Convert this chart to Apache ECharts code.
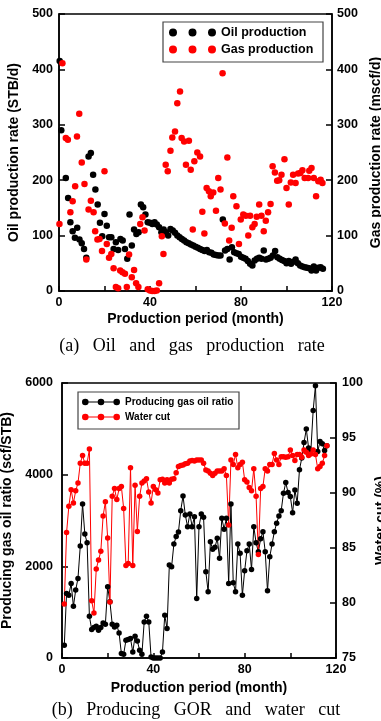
<!DOCTYPE html>
<html>
<head>
<meta charset="utf-8">
<script src="https://cdn.jsdelivr.net/npm/echarts@6/dist/echarts.min.js"></script>
<style>
html, body { margin: 0; padding: 0; background: #fff; }
#main { width: 381px; height: 721px; }
</style>
</head>
<body>
<div id="main"></div>
<script>
// (a) oil and gas production rate, [month, rate]
var oilProduction = [[0.3,415],[1,290],[3,204],[4,168],[5,124],[6,108],[7,96],[8,114],[9,93],[10,86],[11,76],[12,60],
	[13,243],[14,249],[15,210],[16,183],[17,156],[18,123],[19,99],[20,139],[21,118],[22,97],[23,97],[24,76],[25,88],
	[26,74],[27,94],[28,91],[29,76],[30,58],[31,138],[32,82],[33,111],[34,103],[35,106],[36,156],[37,151],[38,138],
	[39,124],[40,123],[41,121],[42,124],[43,120],[44,115],[45,106],[46,111],[47,106],[48,100],[49,112],[50,109],
	[51,105],[52,100],[53,97],[54,94],[55,91],[56,88],[57,86],[58,84],[59,82],[60,80],[61,78],[62,76],[63,74],
	[64,72],[65,74],[66,70],[67,69],[68,66],[69,65],[70,64],[71,64],[72,129],[73,73],[74,76],[75,57],[76,79],
	[77,70],[78,68],[79,67],[80,62],[81,60],[82,58],[83,54],[84,49],[85,46],[86,55],[87,58],[88,60],[89,58],
	[90,73],[91,57],[92,58],[93,60],[94,64],[95,72],[96,61],[97,58],[98,56],[99,54],[100,50],[101,54],[102,49],
	[103,53],[104,57],[105,50],[106,46],[107,44],[108,43],[109,42],[110,41],[111,37],[112,44],[113,37],[114,42],
	[115,43],[116,40]];

var gasProduction = [[0.2,121],[1.5,411],[3,276],[3.9,273],[5,142],[6,162],[7.1,189],[7.9,279],[8.9,320],[10,232],
	[11.2,193],[12,57],[13,147],[14,163],[15.2,142],[15.9,108],[16.9,93],[17.8,94],[18.9,72],[20,216],[21,85],
	[22,60],[23,67],[24,41],[25,7],[26,5],[26.9,37],[27.9,34],[29,31],[29.8,7],[30.8,66],[32,25],[33,38],
	[33.9,14],[34.9,7],[35.7,121],[36.7,133],[37.6,109],[39,3],[40,1],[41,0],[42,0],[43,1],[44,14],[45.2,99],
	[45.9,67],[46.9,228],[47.8,216],[49,253],[49.8,277],[51,288],[52,339],[53.2,360],[53.9,276],[55,270],
	[55.8,228],[57.1,271],[57.9,219],[58.8,111],[59.5,234],[60.8,250],[62,243],[63,143],[63.9,104],[64.9,186],
	[65.9,180],[66.7,171],[67.8,178],[69,145],[70,204],[71,183],[71.9,393],[72.9,122],[74,241],[74.8,91],
	[75.9,114],[76.6,171],[78,153],[79.1,85],[79.9,129],[81,138],[82.1,136],[83.2,100],[84,136],[85,115],
	[86,121],[86.9,134],[88,156],[89,136],[90,108],[90.9,127],[91.9,142],[93,157],[93.9,225],[94.9,214],
	[95.9,199],[96.8,200],[97.8,210],[99.1,238],[100,186],[101,156],[101.9,196],[102.9,210],[104,195],
	[105.1,212],[106.1,213],[107,218],[108,204],[109.5,204],[110,217],[111,222],[112,204],[113,171],[114,198],
	[115,201],[115.8,195]];

// (b) producing GOR (scf/STB) and water cut (%), one value per month from month 1
var gorValues = [278,1408,1371,1627,1131,1481,1737,2443,3361,2705,
	2515,912,621,665,693,606,665,766,737,1553,
	1225,737,678,715,547,96,81,387,402,424,
	131,475,372,168,81,787,912,787,22,0,
	0,0,0,131,934,643,2027,1990,2487,2650,
	2750,3215,3536,3121,2865,3143,2865,3084,1299,2865,
	3143,3070,1881,1443,2537,2371,2414,2611,2174,3049,
	2808,3049,1627,3361,1640,1443,2487,2283,1371,1903,
	2340,2487,1933,2865,2515,2318,2600,2756,2318,1465,
	2209,2487,2756,2939,3099,3215,3595,3828,3609,3521,
	3171,3668,3377,4105,4361,4702,4995,4580,4527,5402,
	5942,4505,4724,4674,4527,4630];

var waterCutValues = [79.9,86.4,88.8,90.3,89.1,90.2,90.9,92.7,93.4,92.7,
	92.7,94.0,80.2,79.1,83.1,83.9,84.7,87.9,89.2,85.9,
	80.1,89.7,90.4,89.4,90.4,90.6,88.6,83.4,83.6,92.3,
	83.4,90.7,86.5,89.7,90.9,91.1,91.3,90.1,89.1,90.6,
	90.3,90.0,91.2,91.25,90.9,91.2,90.9,91.25,91.3,91.85,
	92.4,92.5,92.55,92.65,92.7,92.9,92.95,92.9,93.0,93.0,
	93.0,92.7,92.1,92.0,91.8,91.6,91.8,92.0,92.0,92.0,
	92.2,91.6,87.1,93.0,92.6,93.5,92.3,92.6,92.8,91.2,
	91.0,90.5,90.2,92.2,89.7,84.4,90.4,90.6,92.2,92.0,
	92.6,92.6,93.6,93.0,92.6,93.3,93.3,93.25,93.3,93.9,
	93.4,92.95,93.5,93.5,93.25,93.9,93.7,93.4,93.55,93.9,
	93.5,92.2,92.4,92.7,93.4,94.3];

var captionA = '(a)   Oil   and   gas   production   rate';
var captionB = '(b)   Producing   GOR   and   water   cut';

function toPairs(values) {
	var out = [];
	for (var i = 0; i < values.length; i++) {
		out.push([i + 1, values[i]]);
	}
	return out;
}

var FONT = 'Liberation Sans';
var axisNameStyle = { color : '#000', fontFamily : FONT, fontWeight : 'bold', fontSize : 14 };

// three-dot legend icons
var dotsIcon = 'path://M0,4A4,4 0 1,1 8,4A4,4 0 1,1 0,4Z M19.5,4A4,4 0 1,1 27.5,4A4,4 0 1,1 19.5,4Z M39,4A4,4 0 1,1 47,4A4,4 0 1,1 39,4Z';
var dotsLineIcon = 'path://M0,3.3A3.3,3.3 0 1,1 6.6,3.3A3.3,3.3 0 1,1 0,3.3Z M15.7,3.3A3.3,3.3 0 1,1 22.3,3.3A3.3,3.3 0 1,1 15.7,3.3Z M31.4,3.3A3.3,3.3 0 1,1 38,3.3A3.3,3.3 0 1,1 31.4,3.3Z M3,2.8L35,2.8L35,3.8L3,3.8Z';

function xAxisOf(gridIndex, nameGap) {
	return {
		gridIndex : gridIndex,
		type : 'value',
		min : 0,
		max : 120,
		interval : 20,
		name : 'Production period (month)',
		nameLocation : 'middle',
		nameGap : nameGap,
		nameTextStyle : axisNameStyle,
		axisLine : { lineStyle : { color : '#000', width : 1.5 } },
		axisTick : { inside : true, length : 5, lineStyle : { color : '#000', width : 1.5 } },
		axisLabel : {
			margin : 5,
			formatter : function(v) { return v % 40 === 0 ? String(v) : ''; },
			color : '#000', fontFamily : FONT, fontWeight : 'bold', fontSize : 12.5
		},
		splitLine : { show : false }
	};
}

function yAxisOf(gridIndex, pos, min, max, interval, name, nameGap, margin) {
	return {
		gridIndex : gridIndex,
		type : 'value',
		position : pos,
		min : min,
		max : max,
		interval : interval,
		name : name,
		nameLocation : 'middle',
		nameRotate : 90,
		nameGap : nameGap,
		nameTextStyle : axisNameStyle,
		axisLine : { show : true, lineStyle : { color : '#000', width : 1.5 } },
		axisTick : { show : true, inside : true, length : 6, lineStyle : { color : '#000', width : 1.5 } },
		axisLabel : {
			margin : margin,
			formatter : function(v) { return String(v); },
			color : '#000', fontFamily : FONT, fontWeight : 'bold', fontSize : 12.5
		},
		splitLine : { show : false }
	};
}

var myChart = echarts.init(document.getElementById('main'), null, { renderer : 'canvas' });
var option = {
	backgroundColor : '#fff',
	animation : false,
	grid : [
		{ left : 59, top : 14, width : 273, height : 277, show : true, borderColor : '#000', borderWidth : 1.5,
			containLabel : false, outerBoundsMode : 'none' },
		{ left : 62, top : 383, width : 274, height : 275, show : true, borderColor : '#000', borderWidth : 1.5,
			containLabel : false, outerBoundsMode : 'none' }
	],
	xAxis : [ xAxisOf(0, 21), xAxisOf(1, 23) ],
	yAxis : [
		yAxisOf(0, 'left', 0, 500, 100, 'Oil production rate (STB/d)', 33, 6),
		yAxisOf(0, 'right', 0, 500, 100, 'Gas production rate (mscf/d)', 35, 5),
		yAxisOf(1, 'left', 0, 6000, 2000, 'Producing gas oil ratio (scf/STB)', 40, 9),
		yAxisOf(1, 'right', 75, 100, 5, 'Water cut (%)', 32, 6)
	],
	legend : [
		{
			left : 169, top : 26, padding : 0, itemWidth : 47, itemHeight : 8,
			data : [ { name : 'Oil production', icon : dotsIcon } ],
			textStyle : { color : '#000', fontFamily : FONT, fontWeight : 'bold', fontSize : 12.5 }
		},
		{
			left : 169, top : 43, padding : 0, itemWidth : 47, itemHeight : 8,
			data : [ { name : 'Gas production', icon : dotsIcon } ],
			textStyle : { color : '#000', fontFamily : FONT, fontWeight : 'bold', fontSize : 12.5 }
		},
		{
			left : 82, top : 397, padding : 0, itemWidth : 38, itemHeight : 6.6,
			data : [ { name : 'Producing gas oil ratio', icon : dotsLineIcon } ],
			textStyle : { color : '#000', fontFamily : FONT, fontWeight : 'bold', fontSize : 10 }
		},
		{
			left : 82, top : 412, padding : 0, itemWidth : 38, itemHeight : 6.6,
			data : [ { name : 'Water cut', icon : dotsLineIcon } ],
			textStyle : { color : '#000', fontFamily : FONT, fontWeight : 'bold', fontSize : 10 }
		}
	],
	graphic : [
		{ type : 'rect', shape : { x : 163, y : 22, width : 160, height : 40 },
			style : { fill : 'none', stroke : '#444', lineWidth : 1.2 }, z : 1 },
		{ type : 'rect', shape : { x : 78, y : 392, width : 161, height : 37 },
			style : { fill : 'none', stroke : '#444', lineWidth : 1.2 }, z : 1 },
		{ type : 'text', x : 192, y : 346,
			style : { text : captionA, fontFamily : 'Liberation Serif', fontSize : 18, fill : '#000',
				textAlign : 'center', textVerticalAlign : 'middle' } },
		{ type : 'text', x : 196, y : 710,
			style : { text : captionB, fontFamily : 'Liberation Serif', fontSize : 18, fill : '#000',
				textAlign : 'center', textVerticalAlign : 'middle' } }
	],
	series : [
		{
			name : 'Oil production', type : 'scatter', xAxisIndex : 0, yAxisIndex : 0,
			symbolSize : 6.5, itemStyle : { color : '#000', opacity : 1 },
			data : oilProduction
		},
		{
			name : 'Gas production', type : 'scatter', xAxisIndex : 0, yAxisIndex : 1,
			symbolSize : 6.5, itemStyle : { color : '#ff0000', opacity : 1 },
			data : gasProduction
		},
		{
			name : 'Producing gas oil ratio', type : 'line', xAxisIndex : 1, yAxisIndex : 2,
			symbol : 'circle', symbolSize : 5.5, showAllSymbol : true,
			lineStyle : { color : '#000', width : 1 }, itemStyle : { color : '#000' },
			data : toPairs(gorValues)
		},
		{
			name : 'Water cut', type : 'line', xAxisIndex : 1, yAxisIndex : 3,
			symbol : 'circle', symbolSize : 5.5, showAllSymbol : true,
			lineStyle : { color : '#ff0000', width : 1 }, itemStyle : { color : '#ff0000' },
			data : toPairs(waterCutValues)
		}
	]
};
myChart.setOption(option);
</script>
</body>
</html>
